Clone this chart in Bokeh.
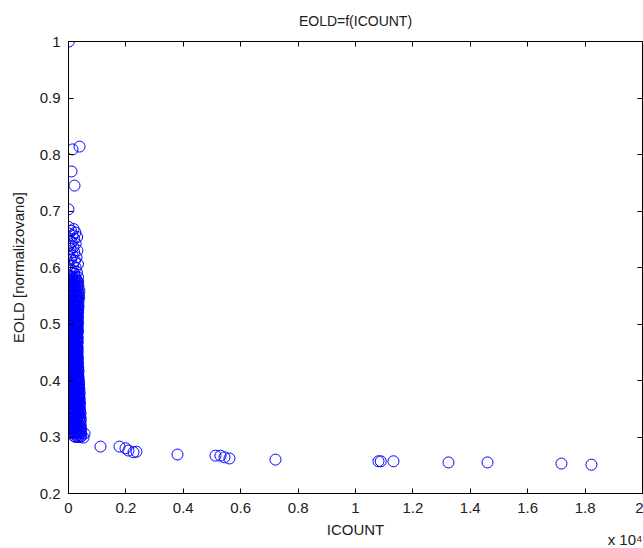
from bokeh.plotting import figure
from bokeh.models import Range1d, LinearAxis, FixedTicker, Title
from bokeh.embed import file_html
from bokeh.resources import INLINE

# ---- data ----
# isolated points at the top of the cluster
ICOUNT_TOP = [10, 140, 385, 105, 210, 0]
EOLD_TOP = [1.000, 0.809, 0.814, 0.770, 0.745, 0.703]

# long tail at the bottom
ICOUNT_TAIL = [523, 557, 1115, 1777, 1986, 2090, 2265, 2369, 3797, 5121, 5296,
               5435, 5609, 7212, 10800, 10880, 11323, 13240, 14599, 17176, 18221]
EOLD_TAIL = [0.299, 0.306, 0.283, 0.283, 0.280, 0.276, 0.273, 0.274, 0.269, 0.267,
             0.267, 0.264, 0.262, 0.260, 0.257, 0.257, 0.257, 0.255, 0.255, 0.253, 0.251]

# dense cluster near ICOUNT = 0 : one EOLD level per row, ICOUNT values in that row
EOLD_ROWS = [0.300, 0.302, 0.306, 0.309, 0.311, 0.315, 0.318, 0.320, 0.324, 0.327,
             0.331, 0.333, 0.336, 0.340, 0.342, 0.345, 0.349, 0.351, 0.354, 0.358,
             0.360, 0.363, 0.367, 0.369, 0.372, 0.376, 0.378, 0.381, 0.385, 0.387,
             0.390, 0.394, 0.396, 0.399, 0.403, 0.405, 0.408, 0.412, 0.414, 0.417,
             0.421, 0.423, 0.426, 0.430, 0.432, 0.435, 0.439, 0.441, 0.444, 0.448,
             0.450, 0.453, 0.457, 0.459, 0.462, 0.466, 0.468, 0.471, 0.475, 0.477,
             0.480, 0.484, 0.486, 0.489, 0.493, 0.495, 0.498, 0.502, 0.504, 0.507,
             0.511, 0.513, 0.516, 0.520, 0.522, 0.525, 0.529, 0.531, 0.534, 0.538,
             0.540, 0.543, 0.547, 0.549, 0.552, 0.556, 0.558, 0.561, 0.565, 0.567,
             0.570, 0.574, 0.576, 0.579, 0.583]
ICOUNT_ROWS = [
    [240, 330, 420], [190, 290, 380, 450], [140, 250, 340, 430], [90, 200, 300, 400],
    [40, 160, 260, 350, 440], [0, 110, 220, 320, 410], [30, 140, 240, 350, 430],
    [0, 80, 190, 290, 390], [50, 150, 260, 340, 420], [10, 110, 210, 310, 400],
    [60, 170, 270, 360, 430], [0, 90, 200, 300, 390], [40, 140, 240, 330, 410],
    [10, 120, 220, 290, 380], [70, 160, 260, 350, 420], [0, 100, 200, 310, 390],
    [30, 150, 240, 330, 400], [0, 80, 190, 280, 370], [50, 130, 230, 320, 390],
    [10, 100, 210, 300, 380], [60, 160, 250, 340, 400], [0, 90, 190, 280, 360],
    [30, 140, 230, 320, 390], [0, 110, 200, 290, 370], [60, 150, 250, 340, 380],
    [10, 90, 180, 270, 360], [40, 130, 230, 310, 390], [0, 100, 200, 290, 350],
    [70, 160, 240, 330, 380], [20, 110, 190, 280, 360], [0, 60, 150, 250, 340],
    [40, 130, 220, 300, 370], [10, 90, 180, 270, 350], [50, 140, 230, 320, 360],
    [0, 100, 200, 280, 340], [30, 120, 210, 300, 350], [0, 70, 160, 250, 330],
    [40, 130, 220, 290, 340], [10, 100, 180, 260, 320], [60, 150, 230, 300, 350],
    [0, 80, 170, 250, 330], [30, 120, 200, 280, 340], [0, 90, 160, 240, 310],
    [50, 140, 220, 290, 330], [10, 100, 180, 260, 320], [0, 60, 150, 230, 300],
    [30, 120, 200, 270, 330], [0, 90, 170, 250, 310], [50, 130, 210, 280, 320],
    [10, 100, 180, 240, 300], [0, 70, 150, 230, 310], [30, 120, 200, 270, 320],
    [0, 90, 170, 250, 300], [50, 140, 210, 280, 320], [10, 100, 180, 240, 300],
    [0, 60, 150, 230, 310], [30, 120, 200, 270, 320], [0, 90, 170, 250, 300],
    [50, 130, 220, 290, 320], [10, 100, 180, 240, 310], [0, 70, 150, 230, 300],
    [40, 120, 200, 270, 320], [0, 90, 160, 250, 310], [20, 130, 210, 280, 330],
    [0, 80, 170, 240, 300], [50, 140, 200, 270, 320], [10, 100, 180, 250, 310],
    [0, 60, 150, 230, 330], [30, 120, 200, 280, 320], [0, 90, 170, 240, 300],
    [50, 140, 210, 290, 330], [10, 100, 180, 260, 310], [0, 70, 150, 230, 320],
    [40, 120, 200, 280, 330], [0, 90, 170, 250, 310], [20, 130, 210, 290, 340],
    [0, 80, 160, 240, 320], [50, 140, 220, 300, 350], [10, 100, 180, 260, 330],
    [0, 70, 150, 240, 310], [40, 120, 200, 280, 350], [0, 90, 170, 260, 330],
    [20, 130, 220, 300, 370], [0, 80, 160, 250, 340], [50, 140, 210, 290, 360],
    [10, 100, 180, 270, 330], [0, 60, 150, 240, 380], [30, 120, 200, 300],
    [0, 90, 170, 260, 350], [50, 140, 220, 320], [10, 100, 190, 280],
    [0, 70, 160, 250, 340], [40, 130, 210, 300], [0, 100, 180, 270],
    [60, 150, 240, 330],
]

# upper, looser part of the cluster
ICOUNT_UPPER = [20, 200, 290, 110, 40, 250, 160, 330, 0, 220, 90, 280, 140, 30, 200,
                310, 70, 170, 0, 250, 110, 40, 200, 300, 140, 20, 240, 90, 180, 0]
EOLD_UPPER = [0.586, 0.589, 0.592, 0.595, 0.598, 0.600, 0.603, 0.606, 0.609, 0.612,
              0.614, 0.618, 0.621, 0.624, 0.627, 0.630, 0.633, 0.636, 0.639, 0.642,
              0.645, 0.648, 0.651, 0.654, 0.657, 0.660, 0.662, 0.665, 0.668, 0.672]

X_TICKS = [0, 2000, 4000, 6000, 8000, 10000, 12000, 14000, 16000, 18000, 20000]
X_TICK_LABELS = ["0", "0.2", "0.4", "0.6", "0.8", "1", "1.2", "1.4", "1.6", "1.8", "2"]
Y_TICKS = [0.2, 0.3, 0.4, 0.5, 0.6, 0.7, 0.8, 0.9, 1.0]
Y_TICK_LABELS = ["0.2", "0.3", "0.4", "0.5", "0.6", "0.7", "0.8", "0.9", "1"]

# ---- assemble ----
xs, ys = [], []
for y, row in zip(EOLD_ROWS, ICOUNT_ROWS):
    for x in row:
        xs.append(x)
        ys.append(y)
xs += ICOUNT_UPPER + ICOUNT_TOP + ICOUNT_TAIL
ys += EOLD_UPPER + EOLD_TOP + EOLD_TAIL

FONT = "Liberation Sans"
TXT = "#202020"

p = figure(width=643, height=548, x_range=Range1d(0, 20000), y_range=Range1d(0.2, 1.0),
           output_backend="svg", toolbar_location=None,
           min_border_left=68, min_border_right=1, min_border_top=41, min_border_bottom=55,
           x_axis_location="below", y_axis_location="left")

p.title.text = "EOLD=f(ICOUNT)"
p.title.align = "center"
p.title.vertical_align = "top"
p.title.text_font = FONT
p.title.text_font_size = "14px"
p.title.text_font_style = "normal"
p.title.text_color = TXT
p.title.offset = 0
p.title.standoff = 21

p.grid.visible = False
p.background_fill_color = "white"
p.border_fill_color = "white"
p.outline_line_color = "black"

def style_axis(ax, ticks, labels, show):
    ax.ticker = FixedTicker(ticks=ticks)
    ax.minor_tick_line_color = None
    ax.major_tick_in = 5
    ax.major_tick_out = 0
    ax.axis_line_color = "black"
    ax.major_tick_line_color = "black"
    ax.major_label_text_font = FONT
    ax.major_label_text_font_size = "15px"
    ax.major_label_text_color = TXT
    ax.axis_label_text_font = FONT
    ax.axis_label_text_font_size = "15px"
    ax.axis_label_text_font_style = "normal"
    ax.axis_label_text_color = TXT
    if show:
        ax.major_label_overrides = {t: l for t, l in zip(ticks, labels)}
    else:
        ax.major_label_overrides = {t: "" for t in ticks}
        ax.major_label_standoff = 0
        ax.major_label_text_font_size = "1px"

xa = p.xaxis[0]
style_axis(xa, X_TICKS, X_TICK_LABELS, True)
xa.axis_label = "ICOUNT"
xa.major_label_standoff = 9
xa.axis_label_standoff = 5

ya = p.yaxis[0]
style_axis(ya, Y_TICKS, Y_TICK_LABELS, True)
ya.axis_label = "EOLD [normalizovano]"
ya.major_label_standoff = 8
ya.axis_label_standoff = 10

top = LinearAxis()
style_axis(top, X_TICKS, X_TICK_LABELS, False)
p.add_layout(top, "above")
right = LinearAxis()
style_axis(right, Y_TICKS, Y_TICK_LABELS, False)
p.add_layout(right, "right")

p.scatter(xs, ys, marker="circle", size=11, fill_color=None,
          line_color="#0000ff", line_width=1)

p.add_layout(Title(text="x 10\u2074", align="right", vertical_align="top", text_font=FONT,
                   text_font_size="15px", text_font_style="normal",
                   text_color=TXT, offset=0, standoff=-19), "below")

open("out.html", "w").write(file_html(p, INLINE))
